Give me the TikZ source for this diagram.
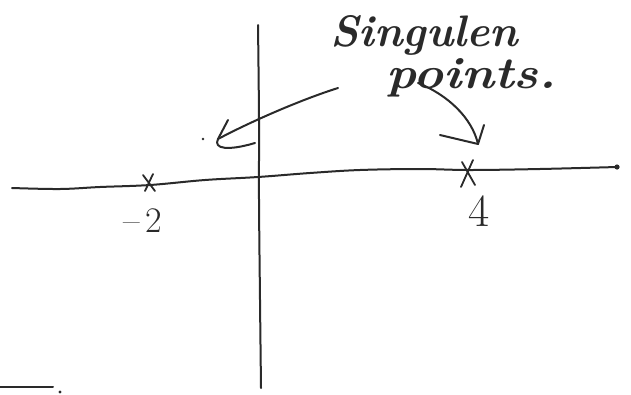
\documentclass[tikz,border=0pt]{standalone}
\usetikzlibrary{calc}
\definecolor{ink}{HTML}{2A2A2A}
\begin{document}
\begin{tikzpicture}[x=1pt,y=-1pt,line cap=round,line join=round,
  pen/.style={draw=ink,line width=2pt},
  thinpen/.style={draw=ink,line width=1.8pt},
  hand/.style={text=ink,inner sep=0pt,anchor=base west,font=\bfseries\itshape},
  numlabel/.style={text=ink,inner sep=0pt},
  inkdot/.style={fill=ink,draw=none}]
\useasboundingbox (0,0) rectangle (631,394);
% axes
\coordinate (hL) at (12,188);
\coordinate (hR) at (617,167);
\coordinate (vT) at (258,25);
\coordinate (vB) at (261,388);
\draw[pen] plot[smooth,tension=0.6] coordinates {(12,188) (60,189) (100,187) (150,185) (205,180) (258,177) (310,173) (360,170) (420,169) (470,170) (540,169) (617,167)};
\fill[inkdot] (hR) circle (2.6);
\draw[pen] plot[smooth,tension=0.6] coordinates {(258,25) (259,120) (259,200) (260,300) (261,388)};
% singular points
\coordinate (pm2) at (149,183);
\coordinate (p4) at (468,173);
\draw[thinpen] (143,175) -- (155,191) (153,174) -- (145,191);
\draw[thinpen] (462,162) -- (475,185) (473,160) -- (461,187);
\node[numlabel,font=\fontsize{36}{36}\selectfont] (lm2) at (143,221) {--\,2};
\node[numlabel,font=\fontsize{46}{46}\selectfont] (l4) at (479,211) {4};
% caption
\node[hand] (sing) at (330,46) {\resizebox{188pt}{31pt}{Singulen}};
\node[hand] (pts) at (386,88) {\resizebox{170pt}{30pt}{points.}};
% arrow 1 (to the left)
\coordinate (a1s) at (338,88);
\coordinate (a1t) at (218,139);
\coordinate (a1b) at (228,120);
\coordinate (a1h) at (255,143);
\draw[pen] (a1s) .. controls (300,100) and (250,122) .. (a1t);
\draw[pen] (a1b) -- (a1t);
\draw[pen] (a1t) .. controls (213,149) and (228,151) .. (a1h);
\fill[inkdot] (203,139) circle (1.4);
% arrow 2 (to x=4)
\coordinate (a2s) at (418,83);
\coordinate (a2t) at (478,144);
\draw[pen] (a2s) .. controls (448,95) and (472,118) .. (a2t);
\draw[pen] (440,135) -- (a2t);
\draw[pen] (484,125) -- (a2t);
% bottom-left fragment
\draw[pen] (0,387) -- (53,387);
\fill[inkdot] (60,392) circle (1.6);
\end{tikzpicture}
\end{document}
